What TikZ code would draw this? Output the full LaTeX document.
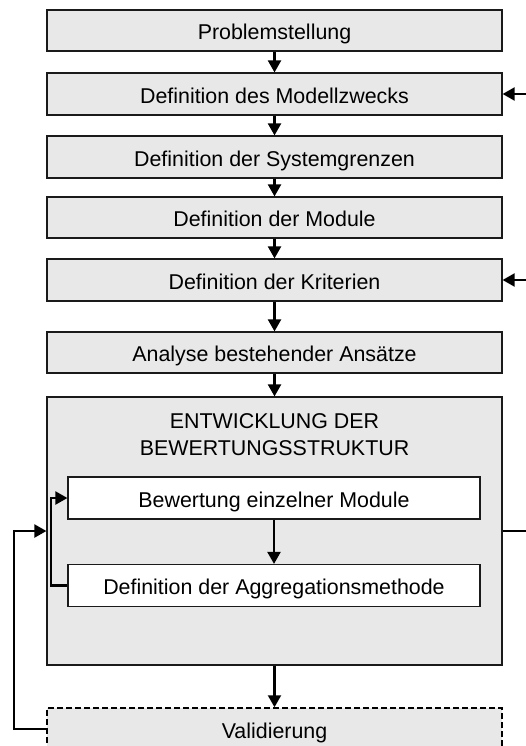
\documentclass[tikz,border=0pt]{standalone}
\usepackage{fontspec}
\setmainfont{Liberation Sans}
\usetikzlibrary{arrows.meta}
\definecolor{boxgray}{HTML}{E8E8E8}
\definecolor{edge}{HTML}{1A1A1A}
\tikzset{
  stepbox/.style={draw=edge, line width=1.2pt, fill=boxgray, minimum width=455pt,
    minimum height=42pt, inner sep=0pt, text height=18.6pt, text depth=0pt,
    font=\fontsize{21.4}{26}\selectfont},
  innerbox/.style={draw=edge, line width=1.2pt, fill=white, minimum width=412pt,
    minimum height=42pt, inner sep=0pt, text height=18.6pt, text depth=0pt,
    font=\fontsize{21.4}{26}\selectfont},
  flow/.style={line width=2.2pt, -{Triangle[length=12pt,width=13pt]}},
  plainline/.style={line width=2.2pt},
}
\begin{document}
\begin{tikzpicture}[x=1pt, y=-1pt]
  \useasboundingbox (0,0) rectangle (526,746);
  % main sequence of steps
  \node[stepbox, minimum height=41pt] (b1) at (274.5,30.5) {Problemstellung};
  \node[stepbox] (b2) at (274.5,94) {Definition des Modellzwecks};
  \node[stepbox] (b3) at (274.5,157) {Definition der Systemgrenzen};
  \node[stepbox, minimum height=41pt] (b4) at (274.5,217.5) {Definition der Module};
  \node[stepbox] (b5) at (274.5,280) {Definition der Kriterien};
  \node[stepbox, minimum height=41pt] (b6) at (274.5,352.5) {Analyse bestehender Ansätze};
  % development block with its two sub-steps
  \node[stepbox, minimum height=268pt] (big) at (274.5,531) {};
  \node[font=\fontsize{21.4}{27}\selectfont, align=center, anchor=north] (title) at (274.5,410)
    {ENTWICKLUNG DER\\BEWERTUNGSSTRUKTUR};
  \node[innerbox] (in1) at (274,498) {Bewertung einzelner Module};
  \node[innerbox] (in2) at (274,585.5) {Definition der Aggregationsmethode};
  % validation step, dashed
  \begin{scope}
    \clip (0,0) rectangle (526,746);
    \node[stepbox, draw=black, line width=1.5pt, dash pattern=on 6pt off 3pt] (val) at (274.5,729) {Validierung};
  \end{scope}
  % downward flow
  \draw[flow] (b1) -- (b2);
  \draw[flow] (b2) -- (b3);
  \draw[flow] (b3) -- (b4);
  \draw[flow] (b4) -- (b5);
  \draw[flow] (b5) -- (b6);
  \draw[flow] (b6) -- (big);
  \draw[flow] (in1) -- (in2);
  \draw[flow] (big.south) -- (val.north);
  % inner feedback loop
  \coordinate (il) at (51,0);
  \draw[flow] (in2.west) -| (il |- in2.west) |- (in1.west);
  % outer feedback loop from validation
  \coordinate (ol) at (14,0);
  \draw[flow] (val.west) -| (ol |- val.west) |- (big.west);
  % connectors at the right margin
  \coordinate (r2) at (526,94);
  \coordinate (r5) at (526,280);
  \coordinate (rb) at (526,531);
  \draw[flow] (r2) -- (b2.east);
  \draw[flow] (r5) -- (b5.east);
  \draw[plainline] (big.east) -- (rb);
\end{tikzpicture}
\end{document}
